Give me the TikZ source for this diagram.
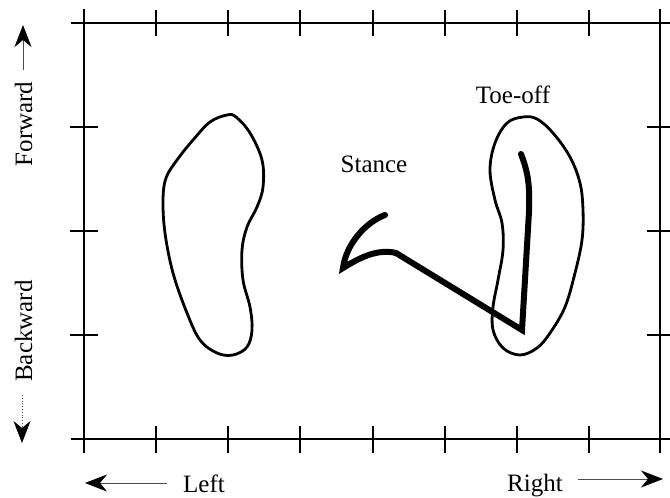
\documentclass[tikz,border=0pt]{standalone}
\usepackage{fontspec}
\setmainfont{Liberation Serif}
\usetikzlibrary{arrows.meta}
\begin{document}
\begin{tikzpicture}[x=1pt,y=-1pt,
  frame/.style={line width=2.2pt},
  outline/.style={line width=2.8pt, line join=round},
  track/.style={line width=6pt, line cap=round, line join=miter},
  lbl/.style={font=\fontsize{25}{25}\selectfont, inner sep=0pt},
  dirarrow/.style={line width=0.8pt, draw=black!70, -{Stealth[length=22pt,width=17pt,inset=7pt,color=black]}}]
\useasboundingbox (0,0) rectangle (670,498);
% frame
\draw[frame] (71,23) -- (673,23);
\draw[frame] (71,439) -- (673,439);
\draw[frame] (84,9) -- (84,453);
\draw[frame] (660,9) -- (660,453);
\foreach \x in {156,228,300,373,445,517,589}{
  \draw[frame] (\x,10) -- (\x,36);
  \draw[frame] (\x,426) -- (\x,453);
}
\foreach \y in {127,231,335}{
  \draw[frame] (70,\y) -- (98,\y);
  \draw[frame] (647,\y) -- (673,\y);
}
% left footprint
\draw[outline] plot[smooth cycle, tension=0.6] coordinates {
 (227,115) (236,117) (250,133) (262,160) (263,187) (257,207) (247,227)
 (242,250) (243,280) (250,307) (252,330) (247,347) (233,355) (217,353)
 (200,340) (187,313) (173,273) (165,233) (163,200) (166,178) (177,160)
 (193,140) (210,122)};
% right footprint
\draw[outline] plot[smooth cycle, tension=0.6] coordinates {
 (523,117) (537,119) (553,133) (570,157) (580,183) (583,210) (582,240)
 (575,273) (565,307) (550,333) (537,348) (520,355) (503,348) (493,330)
 (493,307) (498,280) (503,250) (502,223) (495,200) (490,170) (495,143)
 (507,123)};
% trajectory
\coordinate (s0) at (385,215);
\coordinate (s1) at (343,268);
\coordinate (s2) at (396,253);
\coordinate (s3) at (522,330);
\coordinate (s4) at (529,212);
\coordinate (s5) at (521,154);
\draw[track] (s0) .. controls (366,222) and (346,244) .. (s1)
  .. controls (356,260) and (376,248) .. (s2) -- (s3) -- (s4)
  .. controls (530,185) and (528,172) .. (s5);
% labels
\node[lbl, anchor=base] (stance) at (374,172) {Stance};
\node[lbl, anchor=base] (toeoff) at (513,103) {Toe-off};
\node[lbl, anchor=base, rotate=90] (fwd) at (32,124) {Forward};
\node[lbl, anchor=base, rotate=90] (bwd) at (32,331) {Backward};
\node[lbl, anchor=base] (left) at (204,492) {Left};
\node[lbl, anchor=base] (right) at (535,491) {Right};
% direction arrows
\coordinate (fa) at (23,70);
\coordinate (fb) at (23,25);
\draw[dirarrow] (fa) -- (fb);
\coordinate (ba) at (22,395);
\coordinate (bb) at (22,443);
\draw[dirarrow, dotted] (ba) -- (bb);
\coordinate (la) at (167,483);
\coordinate (lb) at (85,483);
\draw[dirarrow] (la) -- (lb);
\coordinate (ra) at (578,479);
\coordinate (rb) at (663,479);
\draw[dirarrow] (ra) -- (rb);
\end{tikzpicture}
\end{document}
